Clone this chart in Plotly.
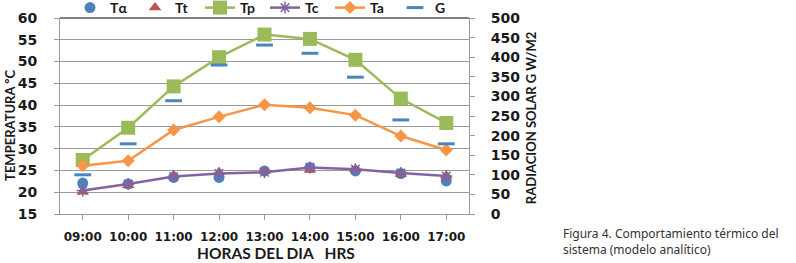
import plotly.graph_objects as go

hours = ["09:00", "10:00", "11:00", "12:00", "13:00", "14:00", "15:00", "16:00", "17:00"]
t_alpha = [22.1, 21.9, 23.4, 23.4, 24.9, 25.7, 24.9, 24.3, 22.6]
t_t = [20.1, 21.6, 23.9, 24.6, 24.8, 25.1, 25.3, 24.2, 23.8]
t_p = [27.4, 34.8, 44.3, 51.0, 56.2, 55.2, 50.4, 41.5, 35.9]
t_c = [20.4, 21.9, 23.6, 24.3, 24.6, 25.7, 25.3, 24.4, 23.7]
t_a = [26.1, 27.2, 34.3, 37.3, 40.1, 39.4, 37.7, 32.9, 29.7]
g_rad = [100, 179, 289, 380, 431, 410, 349, 240, 179]

BLUE = "#4F81BD"
RED = "#C0504D"
GREEN = "#9BBB59"
PURPLE = "#8064A2"
ORANGE = "#F79646"
GBLUE = "#4A86BD"
GRID = "#9a9a9a"

LFONT = "Lato"
TFONT = "DejaVu Sans"

fig = go.Figure()
fig.add_trace(go.Scatter(x=hours, y=t_alpha, name="Tα", mode="markers",
                         marker=dict(symbol="circle", size=11, color=BLUE)))
fig.add_trace(go.Scatter(x=hours, y=t_t, name="Tt", mode="markers",
                         marker=dict(symbol="triangle-up", size=11, color=RED)))
fig.add_trace(go.Scatter(x=hours, y=t_p, name="Tp", mode="lines+markers",
                         line=dict(color=GREEN, width=2.5),
                         marker=dict(symbol="square", size=14, color=GREEN)))
fig.add_trace(go.Scatter(x=hours, y=t_c, name="Tc", mode="lines+markers",
                         line=dict(color=PURPLE, width=2.5),
                         marker=dict(symbol="asterisk-open", size=10, color=PURPLE,
                                     line=dict(color=PURPLE, width=1.5))))
fig.add_trace(go.Scatter(x=hours, y=t_a, name="Ta", mode="lines+markers",
                         line=dict(color=ORANGE, width=2.5),
                         marker=dict(symbol="diamond", size=10, color=ORANGE)))
fig.add_trace(go.Scatter(x=hours, y=g_rad, name="G", mode="markers", yaxis="y2",
                         marker=dict(symbol="line-ew-open", size=12, color=GBLUE,
                                     line=dict(color=GBLUE, width=3))))

fig.update_layout(
    width=796, height=263,
    margin=dict(l=60, r=327, t=18, b=49, autoexpand=False),
    paper_bgcolor="white", plot_bgcolor="white",
    showlegend=True,
    legend=dict(orientation="h", xref="container", yref="container",
                x=70 / 796, xanchor="left", y=1 - 8 / 263, yanchor="middle",
                entrywidth=20, entrywidthmode="pixels",
                font=dict(family=LFONT, size=14, color="#1a1a1a", weight="bold"),
                bgcolor="rgba(0,0,0,0)", borderwidth=0, tracegroupgap=0),
    xaxis=dict(type="category", range=[-0.5, 8.5], showgrid=False,
               showline=True, linecolor=GRID, linewidth=1,
               ticks="outside", ticklen=5, tickcolor=GRID,
               ticklabelstandoff=7,
               tickfont=dict(family=TFONT, size=12, color="#1a1a1a", weight="bold")),
    yaxis=dict(range=[15, 60], dtick=5, showgrid=True, gridcolor=GRID, gridwidth=1,
               showline=True, linecolor=GRID, linewidth=1, zeroline=False,
               ticks="outside", ticklen=5, tickcolor=GRID, ticklabelstandoff=14,
               tickfont=dict(family=TFONT, size=14, color="#1a1a1a", weight="bold")),
    yaxis2=dict(range=[0, 500], dtick=50, overlaying="y", side="right",
                showgrid=False, showline=True, linecolor=GRID, linewidth=1, zeroline=False,
                ticks="outside", ticklen=5, tickcolor=GRID, ticklabelstandoff=13,
                tickfont=dict(family=TFONT, size=14, color="#1a1a1a", weight="bold")),
    annotations=[
        dict(text="HORAS DEL DIA\u00a0\u00a0\u00a0HRS", xref="paper", yref="paper",
             x=0.527, y=-0.199, xanchor="center", yanchor="middle", showarrow=False,
             font=dict(family=LFONT, size=15.5, color="#1a1a1a", weight="bold")),
        dict(text="TEMPERATURA ºC", xref="paper", yref="paper", textangle=-90,
             x=-0.122, y=0.45, xanchor="center", yanchor="middle", showarrow=False,
             font=dict(family=LFONT, size=13, color="#1a1a1a", weight="bold")),
        dict(text="RADIACION SOLAR G W/M2", xref="paper", yref="paper", textangle=-90,
             x=1.152, y=0.49, xanchor="center", yanchor="middle", showarrow=False,
             font=dict(family=LFONT, size=13, color="#1a1a1a", weight="bold")),
        dict(text="Figura 4. Comportamiento térmico del<br>sistema (modelo analítico)",
             xref="paper", yref="paper", x=1.225, y=-0.045, xanchor="left", yanchor="top",
             align="left", showarrow=False,
             font=dict(family="Noto Sans", size=12, color="#333333")),
    ],
    shapes=[dict(type="line", xref="paper", yref="paper", x0=0, x1=1, y0=1, y1=1,
                 line=dict(color="black", width=1))],
)

fig.write_html("out.html", config={"displayModeBar": False},
               post_script="document.body.style.margin='0';document.body.style.overflow='hidden';")
